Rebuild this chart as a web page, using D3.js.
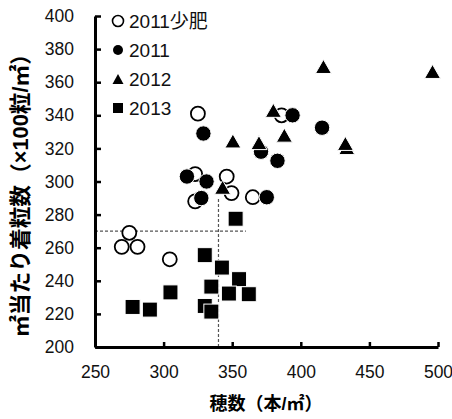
<!DOCTYPE html>
<html><head><meta charset="utf-8">
<script src="https://cdn.jsdelivr.net/npm/d3@7"></script>
<style>
body{margin:0;background:#fff;}
text{font-family:"Liberation Sans","Noto Sans CJK JP",sans-serif;}
</style></head>
<body><svg id="c" width="452" height="419"></svg>
<script>
// Data
const seriesNames = ["2011少肥","2011","2012","2013"];
const fert2011 = [[325,341],[386,340],[323,304.5],[346,303],[349.5,293],[323,288],[365,290.5],[275,269],[269.5,260.5],[281,260.5],[304.5,253]];
const y2011 = [[329,329],[394,340],[415.5,332.5],[383,312.5],[371,318],[317,303],[331.3,300],[327.5,290],[375.2,290.5]];
const y2012 = [[416.5,369.5],[496,366.5],[380,343],[388,328],[350.5,324.5],[369.5,323.5],[433.5,320.5],[432.5,323],[343,296.5]];
const y2013 = [[352.5,277.5],[330,255.5],[342.5,248],[355,241],[334.8,236.5],[347.6,232.3],[362.1,231.9],[305,233],[277.4,224.2],[290,222.6],[330,224.8],[334.8,221.4]];
const xTicks = [250,300,350,400,450,500];
const yTicks = [200,220,240,260,280,300,320,340,360,380,400];
const refY = 270, refX = 340, refXEnd = 360, refYEnd = 290;
const xTitle = "穂数（本/㎡）";
const yTitle = "㎡当たり着粒数（×100粒/㎡）";

const svg = d3.select("#c");
const x = d3.scaleLinear().domain([250,500]).range([95,438]);
const y = d3.scaleLinear().domain([200,400]).range([347,16]);

// dashed reference lines
svg.append("line").attr("x1",x(250)).attr("x2",x(refXEnd)).attr("y1",y(refY)).attr("y2",y(refY))
  .attr("stroke","#555").attr("stroke-width",1.2).attr("stroke-dasharray","3,2");
svg.append("line").attr("x1",x(refX)).attr("x2",x(refX)).attr("y1",y(200)).attr("y2",y(refYEnd))
  .attr("stroke","#555").attr("stroke-width",1.2).attr("stroke-dasharray","3,2");

// axes
const ax = svg.append("g").attr("transform",`translate(0,${y(200)})`)
  .call(d3.axisBottom(x).tickValues(xTicks).tickSizeInner(-5).tickSizeOuter(0).tickPadding(19));
const ay = svg.append("g").attr("transform",`translate(${x(250)},0)`)
  .call(d3.axisLeft(y).tickValues(yTicks).tickSizeInner(-6).tickSizeOuter(0).tickPadding(21));
[ax,ay].forEach(a=>{
  a.select(".domain").attr("stroke","#000").attr("stroke-width",3);
  a.selectAll(".tick line").attr("stroke","#000").attr("stroke-width",2.5);
  a.selectAll(".tick text").attr("font-size",17.5).attr("fill","#111")
   .attr("font-family","'Liberation Sans',sans-serif");
});

// markers
function drawSeries(data, type){
  const g = svg.append("g");
  data.forEach(d=>{
    const cx = x(d[0]), cy = y(d[1]);
    if(type==="open"){
      g.append("circle").attr("cx",cx).attr("cy",cy).attr("r",7).attr("fill","#fff").attr("stroke","#000").attr("stroke-width",1.8);
    } else if(type==="fill"){
      g.append("circle").attr("cx",cx).attr("cy",cy).attr("r",7.7).attr("fill","#000").attr("stroke","#fff").attr("stroke-width",1);
    } else if(type==="tri"){
      const w=16,h=14;
      g.append("path").attr("d",`M${cx},${cy-h/2}L${cx+w/2},${cy+h/2}L${cx-w/2},${cy+h/2}Z`).attr("fill","#000").attr("stroke","#fff").attr("stroke-width",1);
    } else {
      const s=15;
      g.append("rect").attr("x",cx-s/2).attr("y",cy-s/2).attr("width",s).attr("height",s).attr("fill","#000").attr("stroke","#fff").attr("stroke-width",1);
    }
  });
}
drawSeries(fert2011,"open");
drawSeries(y2011,"fill");
drawSeries(y2012,"tri");
drawSeries(y2013,"sq");

// legend
const types = ["open","fill","tri","sq"];
const ly = [21,50,79,108];
types.forEach((t,i)=>{
  const cx=118, cy=ly[i];
  if(t==="open") svg.append("circle").attr("cx",cx).attr("cy",cy).attr("r",5.5).attr("fill","#fff").attr("stroke","#000").attr("stroke-width",1.6);
  else if(t==="fill") svg.append("circle").attr("cx",cx).attr("cy",cy).attr("r",5).attr("fill","#000");
  else if(t==="tri") svg.append("path").attr("d",`M${cx},${cy-5}L${cx+5.5},${cy+5}L${cx-5.5},${cy+5}Z`).attr("fill","#000");
  else svg.append("rect").attr("x",cx-5).attr("y",cy-5).attr("width",10).attr("height",10).attr("fill","#000");
  svg.append("text").attr("x",129).attr("y",cy).attr("dy","0.35em").attr("font-size",19).attr("fill","#111").text(seriesNames[i]);
});

// titles, sized to match reference extents
function fitText(sel, target, base){
  const len = sel.node().getComputedTextLength();
  sel.attr("font-size", base*target/len);
}
const xt = svg.append("text").attr("x",266).attr("y",404).attr("dy","0.35em").attr("text-anchor","middle")
  .attr("font-family","'Noto Sans CJK JP',sans-serif")
  .attr("font-size",19).attr("font-weight","bold").attr("fill","#000").text(xTitle);
fitText(xt,113,19);
const yt = svg.append("text").attr("transform","translate(20,190) rotate(-90)").attr("dy","0.35em").attr("text-anchor","middle")
  .attr("font-family","'Noto Sans CJK JP',sans-serif")
  .attr("font-size",19).attr("font-weight","bold").attr("fill","#000").text(yTitle);
fitText(yt,294,19);
</script></body></html>
